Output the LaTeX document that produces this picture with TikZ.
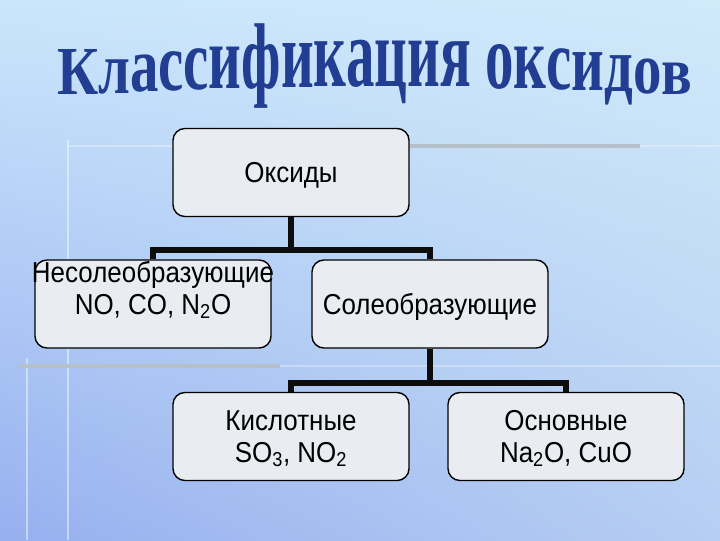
\documentclass[tikz,border=0pt]{standalone}
\usepackage{fontspec}
\setmainfont{Liberation Sans}
\newfontfamily\titlefont{Liberation Serif}
\newfontfamily\boxfont{Liberation Sans}[FakeStretch=0.9]
\usepackage{graphicx}
\usetikzlibrary{positioning, shadings}
\definecolor{SlideTop}{RGB}{202,230,251}
\definecolor{SlideRight}{RGB}{208,234,250}
\definecolor{SlideBottomLeft}{RGB}{150,176,240}
\definecolor{SlideBottomRight}{RGB}{182,206,242}
\definecolor{TitleBlue}{RGB}{33,62,146}
\definecolor{BoxFill}{RGB}{233,237,242}
\definecolor{RuleGray}{RGB}{182,192,202}

\newcommand{\archletter}[3]{\raisebox{#2pt}{\scalebox{0.86}[#1]{#3}}}

\tikzset{
  box/.style={draw=black, line width=1pt, fill=BoxFill, rounded corners=8.5pt,
    minimum width=5.9cm, minimum height=2.2cm, inner sep=0pt, align=center,
    text depth=0pt, font=\boxfont\fontsize{20.5}{22.5}\selectfont},
  boxtext/.style={inner sep=0pt, align=center, font=\boxfont\fontsize{20.5}{22.5}\selectfont},
  conn/.style={line width=3.6pt, draw=black!95},
  titlechar/.style={inner sep=0pt, outer sep=0pt, text=TitleBlue,
    font=\titlefont\bfseries\fontsize{47}{50}\selectfont}
}

\begin{document}
\begin{tikzpicture}[x=0.025cm, y=-0.025cm]
    % slide background
    \shade[upper left=SlideTop, upper right=SlideRight,
      lower left=SlideBottomLeft, lower right=SlideBottomRight] (0,0) rectangle (720,540);
    \useasboundingbox (0,0) rectangle (720,540);
    \draw[white, opacity=.45, line width=2pt] (68,140) -- (68,540);
    \draw[white, opacity=.45, line width=2pt] (27,358) -- (27,540);
    \draw[white, opacity=.3, line width=2pt] (68,146) -- (720,146);
    \draw[white, opacity=.3, line width=2pt] (20,366) -- (720,366);
    \draw[RuleGray, line width=3pt] (410,146) -- (640,146);
    \draw[RuleGray, line width=3pt] (20,366) -- (280,366);

    % arched title
    \node[titlechar, anchor=base west] (t1) at (57,95) {\archletter{1.04}{0.5}{К}};
    \foreach \ch [count=\i from 2] in {л,а,с,с,и,ф,и,к,а,ц,и,я,~,о,к,с,и,д,о,в} {
      \pgfmathsetmacro{\ys}{1+0.5*sin(180*(\i-0.5)/21)}
      \pgfmathsetmacro{\dy}{6*sin(180*(\i-0.5)/21)}
      \pgfmathtruncatemacro{\prev}{\i-1}
      \node[titlechar, base right=0pt of t\prev] (t\i) {\archletter{\ys}{\dy}{\ch}};
    }

    % boxes
    \node[box] (oxides) at (291,172.5) {Оксиды};
    \node[box] (nonsalt) at (153,304) {};
    \node[boxtext] (nonsalttext) at (153,290) {Несолеобразующие\\NO, CO, N\textsubscript{2}O};
    \node[box] (salt) at (430,304) {Солеобразующие};
    \node[box] (acid) at (291,436.5) {Кислотные\\SO\textsubscript{3}, NO\textsubscript{2}};
    \node[box] (basic) at (566,436.5) {Основные\\Na\textsubscript{2}O, CuO};

    % connectors
    \coordinate (fork1) at (291,250);
    \coordinate (fork2) at (430,383);
    \draw[conn] (oxides.south) -- (fork1);
    \draw[conn] (nonsalt.north) |- (fork1) -| (salt.north);
    \draw[conn] (salt.south) -- (fork2);
    \draw[conn] (acid.north) |- (fork2) -| (basic.north);
\end{tikzpicture}
\end{document}
